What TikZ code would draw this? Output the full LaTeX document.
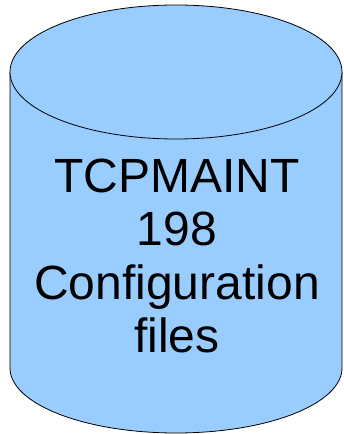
\documentclass[tikz,border=0pt]{standalone}
\usepackage{fontspec}
\setmainfont{Liberation Sans}
\definecolor{diskblue}{HTML}{99CCFF}

\begin{document}
\begin{tikzpicture}[x=1pt,y=1pt,
    disk/.style={fill=diskblue, draw=black, line width=0.8pt},
    label/.style={align=center, font=\fontsize{48}{53.3}\selectfont, inner sep=0pt}]
    \useasboundingbox (0,0) rectangle (343,434);

    % Define the cylinder corners
    \coordinate (topleft) at (10,362);
    \coordinate (botleft) at (10,66);
    \coordinate (topcentre) at (176,362);

    % Draw the body and the lid
    \draw[disk] (topleft) -- (botleft) arc[start angle=180, end angle=360, x radius=166, y radius=65] -- (342,362);
    \draw[disk] (topcentre) ellipse [x radius=166, y radius=67];

    % Write the label
    \node[label] (title) at (177,178) {TCPMAINT\\198\\Configuration\\files};
\end{tikzpicture}
\end{document}
